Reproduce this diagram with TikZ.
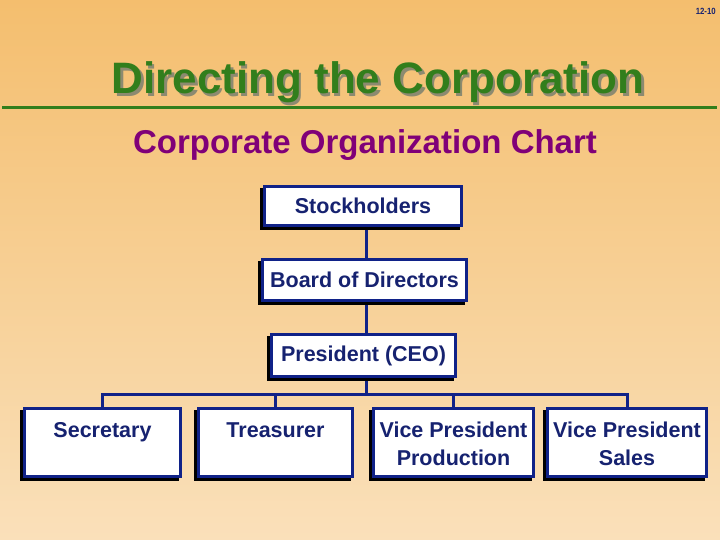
\documentclass[tikz,border=0pt]{standalone}
\usepackage{fontspec}
\setmainfont{Liberation Sans}
\usetikzlibrary{shadows}
\pgfdeclarelayer{bg}\pgfdeclarelayer{conn}
\pgfsetlayers{bg,conn,main}
\definecolor{navy}{RGB}{16,34,136}
\definecolor{navytext}{RGB}{22,34,112}
\definecolor{bgtop}{RGB}{244,190,110}
\definecolor{bgbot}{RGB}{250,224,186}
\definecolor{titlegreen}{RGB}{50,126,28}
\definecolor{titleshadow}{RGB}{140,138,112}
\definecolor{subpurple}{RGB}{128,0,120}
\begin{document}
\begin{tikzpicture}[x=1pt,y=-1pt,
  box/.style={draw=navy, line width=3pt, fill=white, text=navytext, inner sep=0pt,
    font=\bfseries\fontsize{21.5}{28}\selectfont,
    general shadow={fill=black, draw=black, line width=3pt, shadow xshift=-3pt, shadow yshift=-3pt}},
  lowbox/.style={box, minimum height=68pt},
  conn/.style={draw=navy, line width=3pt, line join=miter},
  titletext/.style={font=\bfseries\fontsize{44}{50}\selectfont, anchor=base, inner sep=0pt}]
\useasboundingbox (0,0) rectangle (720,540);
\begin{pgfonlayer}{bg}
\shade[top color=bgtop, bottom color=bgbot] (0,0) rectangle (720,540);
\end{pgfonlayer}

\node[font=\bfseries\fontsize{9}{11}\selectfont, text=navytext, anchor=base east, inner sep=0pt] (pgnum) at (716,14.5) {\scalebox{0.87}[1]{12-10}};

\node[titletext, text=titleshadow] (titleshadow) at (380.5,96.5) {Directing the Corporation};
\node[titletext, text=titlegreen] (title) at (378,94) {Directing the Corporation};
\coordinate (lineL) at (2,107.5);
\coordinate (lineR) at (717,107.5);
\draw[draw=titlegreen, line width=3.5pt] (lineL) -- (lineR);

\node[font=\bfseries\fontsize{33}{40}\selectfont, text=subpurple, anchor=base, inner sep=0pt] (subtitle) at (365,154) {Corporate Organization Chart};

\node[box, minimum width=197pt, minimum height=39pt] (stock) at (363,206) {Stockholders};
\node[box, minimum width=204pt, minimum height=41pt] (board) at (364.5,280) {Board of Directors};
\node[box, minimum width=184pt, minimum height=42pt] (pres) at (363.5,355.5) {President (CEO)};

\node[lowbox, minimum width=156pt] (sec) at (102.5,442.5)
  {\parbox[c][62pt][t]{150pt}{\centering\rule{0pt}{25.5pt}Secretary}};
\node[lowbox, minimum width=154pt] (treas) at (275.5,442.5)
  {\parbox[c][62pt][t]{150pt}{\centering\rule{0pt}{25.5pt}Treasurer}};
\node[lowbox, minimum width=160pt] (prod) at (453.5,442.5)
  {\parbox[c][62pt][t]{154pt}{\centering\rule{0pt}{25.5pt}Vice President\\Production}};
\node[lowbox, minimum width=159pt] (sales) at (627,442.5)
  {\parbox[c][62pt][t]{154pt}{\centering\rule{0pt}{25.5pt}Vice President\\Sales}};

\coordinate (spine) at (366,0);
\coordinate (bus) at (0,394);
\begin{pgfonlayer}{conn}
\draw[conn] (spine |- stock.center) -- (spine |- bus);
\draw[conn] (sec.center) -- (sec.center |- bus) -- (sales.center |- bus) -- (sales.center);
\draw[conn] (treas.center) -- (treas.center |- bus);
\draw[conn] (prod.center) -- (prod.center |- bus);
\end{pgfonlayer}
\end{tikzpicture}
\end{document}
